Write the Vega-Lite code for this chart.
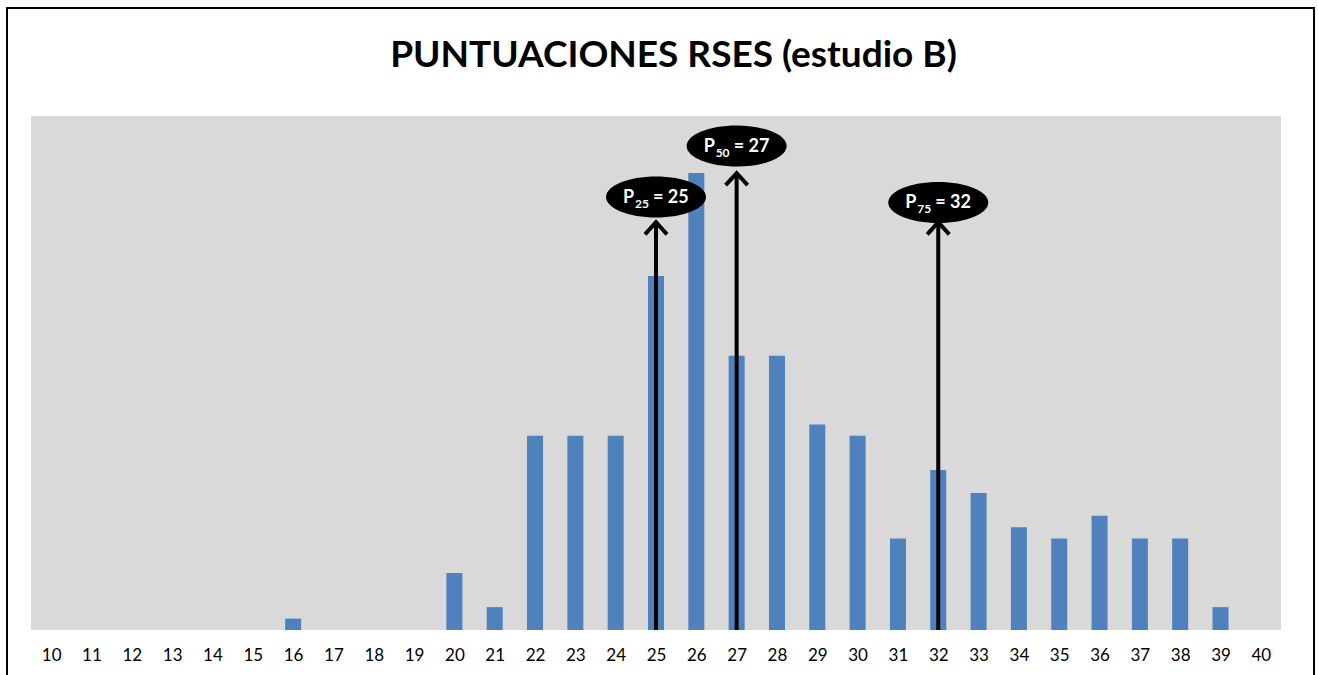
{
  "$schema": "https://vega.github.io/schema/vega-lite/v6.json",
  "width": 1307,
  "height": 680,
  "autosize": {"type": "none"},
  "padding": {"left": 7, "top": 8, "right": 4, "bottom": 0},
  "background": "white",
  "config": {
    "view": {"stroke": "black", "strokeWidth": 2, "fill": "white"},
    "font": "Lato"
  },
  "title": {
    "text": "PUNTUACIONES RSES (estudio B)",
    "font": "Lato",
    "fontSize": 37,
    "fontWeight": "bold",
    "color": "black",
    "anchor": "middle",
    "frame": "group",
    "offset": -67,
    "dx": 13
  },
  "datasets": {
    "freq": [
      {"score": 16, "count": 1},
      {"score": 20, "count": 5},
      {"score": 21, "count": 2},
      {"score": 22, "count": 17},
      {"score": 23, "count": 17},
      {"score": 24, "count": 17},
      {"score": 25, "count": 31},
      {"score": 26, "count": 40},
      {"score": 27, "count": 24},
      {"score": 28, "count": 24},
      {"score": 29, "count": 18},
      {"score": 30, "count": 17},
      {"score": 31, "count": 8},
      {"score": 32, "count": 14},
      {"score": 33, "count": 12},
      {"score": 34, "count": 9},
      {"score": 35, "count": 8},
      {"score": 36, "count": 10},
      {"score": 37, "count": 8},
      {"score": 38, "count": 8},
      {"score": 39, "count": 2}
    ],
    "pct": [
      {"value": 25, "sub": "25", "rest": "= 25", "arrow_top": 35.7, "label_y": 37.9},
      {"value": 27, "sub": "50", "rest": "= 27", "arrow_top": 40.0, "label_y": 42.37},
      {"value": 32, "sub": "75", "rest": "= 32", "arrow_top": 35.7, "label_y": 37.43}
    ]
  },
  "layer": [
    {
      "data": {"values": [{}]},
      "mark": {"type": "rect", "color": "#d9d9d9"},
      "encoding": {
        "x": {
          "datum": 9.5,
          "type": "quantitative",
          "scale": {"type": "linear", "domain": [8.9048, 41.3184], "nice": false, "zero": false, "padding": 0},
          "axis": {
            "orient": "bottom",
            "offset": -58,
            "values": [10, 11, 12, 13, 14, 15, 16, 17, 18, 19, 20, 21, 22, 23, 24, 25, 26, 27, 28, 29, 30, 31, 32, 33, 34, 35, 36, 37, 38, 39, 40],
            "format": "d",
            "domain": false,
            "ticks": false,
            "tickSize": 0,
            "grid": false,
            "labelPadding": 30,
            "labelBaseline": "alphabetic",
            "labelFont": "Lato",
            "labelFontSize": 17,
            "labelColor": "black",
            "labelFlush": false,
            "labelOverlap": false,
            "title": null
          }
        },
        "x2": {"datum": 40.5},
        "y": {
          "datum": 0,
          "type": "quantitative",
          "scale": {"type": "linear", "domain": [-5.0778, 54.4553], "nice": false, "zero": false, "padding": 0},
          "axis": null
        },
        "y2": {"datum": 45}
      }
    },
    {
      "data": {"name": "freq"},
      "mark": {"type": "bar", "size": 16, "color": "#4F81BD"},
      "encoding": {
        "x": {"field": "score", "type": "quantitative"},
        "y": {"field": "count", "type": "quantitative"}
      }
    },
    {
      "data": {"name": "pct"},
      "mark": {"type": "rule", "color": "black", "strokeWidth": 4},
      "encoding": {
        "x": {"field": "value", "type": "quantitative"},
        "y": {"field": "arrow_top", "type": "quantitative"},
        "y2": {"datum": 0}
      }
    },
    {
      "data": {"name": "pct"},
      "mark": {"type": "point", "shape": "M-1,1.1L0,0L1,1.1", "size": 484, "filled": false, "stroke": "black", "strokeWidth": 4, "opacity": 1},
      "encoding": {
        "x": {"field": "value", "type": "quantitative"},
        "y": {"field": "arrow_top", "type": "quantitative"}
      }
    },
    {
      "data": {"name": "pct"},
      "mark": {"type": "point", "shape": "M-1,0A1,0.41 0 1,1 1,0A1,0.41 0 1,1 -1,0Z", "size": 10000, "filled": true, "fill": "black", "strokeWidth": 0, "opacity": 1},
      "encoding": {
        "x": {"field": "value", "type": "quantitative"},
        "y": {"field": "label_y", "type": "quantitative"}
      }
    },
    {
      "data": {"name": "pct"},
      "mark": {"type": "text", "text": "P", "align": "left", "baseline": "alphabetic", "dx": -33, "dy": 6, "font": "Lato", "fontSize": 18, "fontWeight": "bold", "color": "white"},
      "encoding": {
        "x": {"field": "value", "type": "quantitative"},
        "y": {"field": "label_y", "type": "quantitative"}
      }
    },
    {
      "data": {"name": "pct"},
      "mark": {"type": "text", "align": "left", "baseline": "alphabetic", "dx": -21, "dy": 11, "font": "Lato", "fontSize": 12, "fontWeight": "bold", "color": "white"},
      "encoding": {
        "x": {"field": "value", "type": "quantitative"},
        "y": {"field": "label_y", "type": "quantitative"},
        "text": {"field": "sub"}
      }
    },
    {
      "data": {"name": "pct"},
      "mark": {"type": "text", "align": "left", "baseline": "alphabetic", "dx": -3, "dy": 6, "font": "Lato", "fontSize": 18, "fontWeight": "bold", "color": "white"},
      "encoding": {
        "x": {"field": "value", "type": "quantitative"},
        "y": {"field": "label_y", "type": "quantitative"},
        "text": {"field": "rest"}
      }
    }
  ]
}
